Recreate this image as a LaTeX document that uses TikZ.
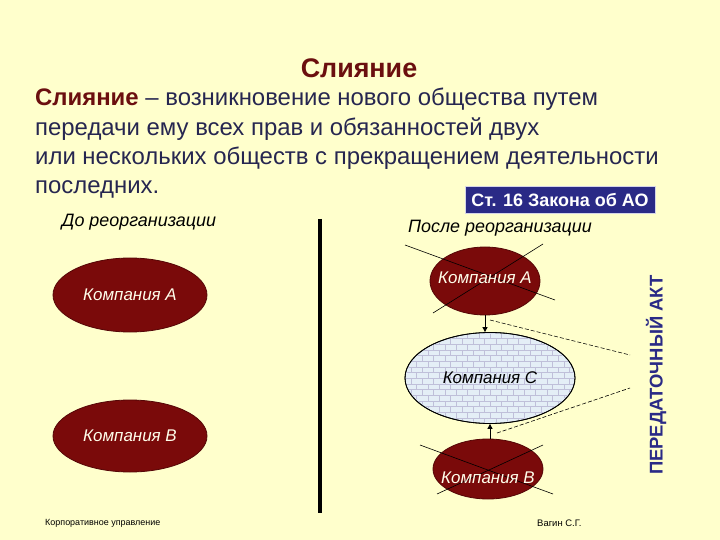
\documentclass[tikz,border=0pt]{standalone}
\usepackage{fontspec}
\setmainfont{Liberation Sans}
\usetikzlibrary{shapes.geometric,patterns,arrows.meta}
\definecolor{bg}{HTML}{FFFFCC}
\definecolor{darkred}{HTML}{7A0A0A}
\definecolor{titlered}{HTML}{6B0F0F}
\definecolor{navy}{HTML}{2A2A86}
\definecolor{textblue}{HTML}{262650}
\definecolor{lightc}{HTML}{E4EEF6}
\tikzset{
  redell/.style={ellipse, draw=darkred!70!black, line width=0.8bp, fill=darkred, text=white!92!yellow, font=\fontsize{17}{19}\selectfont\itshape, inner sep=0pt},
  elltxt/.style={text=white!92!yellow, font=\fontsize{17}{19}\selectfont\itshape, inner sep=0pt},
  thinx/.style={black, line width=0.6bp},
  para/.style={anchor=base west, text=textblue, font=\fontsize{24}{28}\selectfont, inner sep=0pt},
  lbl/.style={text=black, font=\fontsize{18}{20}\selectfont\itshape, inner sep=0pt},
  arr/.style={-{Triangle[length=5bp,width=5bp]}, line width=0.9bp, black},
  dsh/.style={dashed, dash pattern=on 4bp off 2bp, line width=0.6bp, black}
}
\begin{document}
\begin{tikzpicture}[x=1bp,y=-1bp]
\fill[bg] (0,0) rectangle (720,540);
\useasboundingbox (0,0) rectangle (720,540);

\node[anchor=center, text=titlered, font=\fontsize{27}{30}\selectfont\bfseries, inner sep=0pt] (title) at (359,68) {Слияние};

\node[para] (l1) at (35,106) {\textcolor{titlered}{\textbf{Слияние}} – возникновение нового общества путем};
\node[para] (l2) at (35,136) {передачи ему всех прав и обязанностей двух};
\node[para] (l3) at (35,165) {или нескольких обществ с прекращением деятельности};
\node[para] (l4) at (35,194) {последних.};

\node[draw=white!80!navy, line width=0.8bp, fill=navy, text=white, font=\fontsize{18}{20}\selectfont\bfseries, minimum width=190bp, minimum height=27bp, inner sep=0pt] (law) at (560,200) {Ст. 16 Закона об АО};

\node[lbl] (before) at (139,222) {До реорганизации};
\node[lbl] (after) at (500,228) {После реорганизации};

\coordinate (vt) at (320,219);
\coordinate (vb) at (320,513);
\draw[line width=4bp, black] (vt) -- (vb);

\node[redell, minimum width=154bp, minimum height=74bp] (lA) at (130,295) {Компания А};
\node[redell, minimum width=154bp, minimum height=72bp] (lB) at (130,436) {Компания В};

% right side
\node[ellipse, draw=black, line width=0.8bp, fill=lightc, minimum width=170bp, minimum height=91bp, inner sep=0pt] (rCbg) at (490,378) {};
\fill[pattern=bricks, pattern color=blue!25!gray!40] (490,378) ellipse [x radius=84bp, y radius=44.5bp];
\node[ellipse, draw=black, line width=0.8bp, minimum width=170bp, minimum height=91bp, inner sep=0pt, font=\fontsize{17}{19}\selectfont\itshape] (rC) at (490,378) {Компания С};

\node[redell, minimum width=110bp, minimum height=68bp] (rA) at (485,281) {};
\node[redell, minimum width=110bp, minimum height=60bp] (rB) at (488,469) {};

\coordinate (a1) at (405,245); \coordinate (a2) at (555,300);
\coordinate (a3) at (543,244); \coordinate (a4) at (433,313);
\draw[thinx] (a1) -- (a2);
\draw[thinx] (a3) -- (a4);
\coordinate (b1) at (420,445); \coordinate (b2) at (553,494);
\coordinate (b3) at (543,445); \coordinate (b4) at (437,494);
\draw[thinx] (b1) -- (b2);
\draw[thinx] (b3) -- (b4);

\node[elltxt] (rAt) at (485,278) {Компания А};
\node[elltxt] (rBt) at (488,478) {Компания В};

\draw[arr] (rA.south -| 485,0) -- (rC.north -| 485,0);
\draw[arr] (rB.north -| 490,0) -- (rC.south -| 490,0);

\coordinate (d1s) at (490,320); \coordinate (d1e) at (630,355);
\coordinate (d2s) at (497,433); \coordinate (d2e) at (630,388);
\draw[dsh] (d1s) -- (d1e);
\draw[dsh] (d2s) -- (d2e);

\node[rotate=90, text=navy, font=\fontsize{18.5}{20}\selectfont\bfseries, inner sep=0pt] (akt) at (656,375) {ПЕРЕДАТОЧНЫЙ АКТ};

\node[anchor=west, font=\fontsize{9}{10}\selectfont, inner sep=0pt] (f1) at (45,523) {Корпоративное управление};
\node[anchor=west, font=\fontsize{9.5}{10}\selectfont, inner sep=0pt] (f2) at (537,523) {Вагин С.Г.};
\end{tikzpicture}
\end{document}
